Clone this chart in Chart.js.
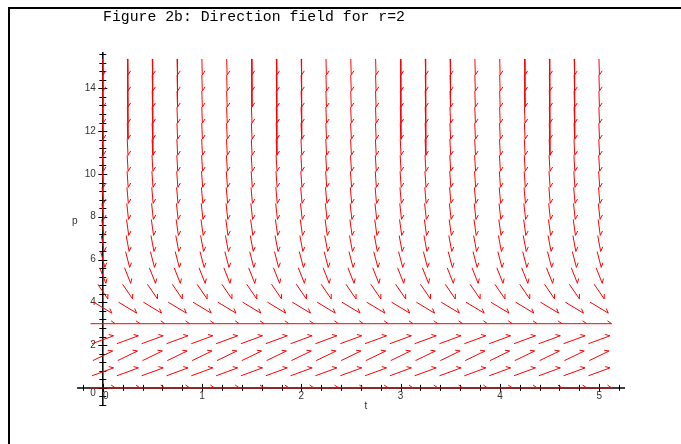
<!DOCTYPE html>
<html><head><meta charset="utf-8">
<script src="https://cdn.jsdelivr.net/npm/chart.js@4/dist/chart.umd.min.js"></script>
<style>html,body{margin:0;padding:0;background:#fff;overflow:hidden}</style>
</head><body>
<canvas id="c" width="681" height="444"></canvas>
<script>
// ---- data ----
const chartTitle = "Figure 2b: Direction field for r=2";
const xLabel = "t";
const yLabel = "p";
// grid of arrow centres
const tGrid = [0,0.25,0.5,0.75,1,1.25,1.5,1.75,2,2.25,2.5,2.75,3,3.25,3.5,3.75,4,4.25,4.5,4.75,5];
const pGrid = [0,0.75,1.5,2.25,3,3.75,4.5,5.25,6,6.75,7.5,8.25,9,9.75,10.5,11.25,12,12.75,13.5,14.25,15];
// slope dp/dt of the arrows in each row
const rowSlopes = [0,1.7,2.25,1.7,0,-2.8,-6.8,-11.8,-18,-25,-34,-43,-54,-66,-79,-93,-108,-124,-142,-160,-180];
// tick labels
const tTicks = [0,1,2,3,4,5];
const pTicks = [0,2,4,6,8,10,12,14];

// ---- build shaft segments from the arrays ----
const dt = tGrid[1]-tGrid[0], dp = pGrid[1]-pGrid[0];
const arrows = [];
pGrid.forEach((p,i)=>{
  const s = rowSlopes[i];
  const gx = 1/dt, gy = s/dp, n = Math.hypot(gx,gy);
  const hx = 0.5*dt*gx/n, hy = 0.5*dp*gy/n;
  tGrid.forEach(t=>{ arrows.push({x0:t-hx,y0:p-hy,x1:t+hx,y1:p+hy}); });
});
const shaftData = [];
arrows.forEach(a=>{ shaftData.push({x:a.x0,y:a.y0},{x:a.x1,y:a.y1},{x:a.x1,y:null}); });

const RED = '#ff0000';
const fieldPlugin = {
  id:'field',
  beforeDatasetsDraw(chart){
    const ctx = chart.ctx, xs = chart.scales.x, ys = chart.scales.y;
    const X = v=>xs.getPixelForValue(v), Y = v=>ys.getPixelForValue(v);
    ctx.save();
    // frame
    ctx.strokeStyle='#000'; ctx.lineWidth=2;
    ctx.beginPath(); ctx.moveTo(9,444); ctx.lineTo(9,8); ctx.lineTo(681,8); ctx.stroke();
    // title
    ctx.fillStyle='#000'; ctx.font="14.8px 'Liberation Mono', 'DejaVu Sans Mono', monospace";
    ctx.textAlign='left'; ctx.textBaseline='alphabetic';
    ctx.fillText(chartTitle, 103, 21);
    // axes
    const x0 = X(0), y0 = Y(0);
    ctx.strokeStyle='#000'; ctx.lineWidth=1.5;
    ctx.beginPath();
    ctx.moveTo(X(xs.min),y0); ctx.lineTo(X(xs.max),y0);
    ctx.moveTo(x0,Y(ys.min)); ctx.lineTo(x0,Y(ys.max));
    ctx.stroke();
    ctx.lineWidth=1;
    ctx.beginPath();
    for(let k=-1;k<=26;k++){ const v=k*0.2; const L=(k%5===0)?4:3; const px=Math.round(X(v))+0.5; ctx.moveTo(px,y0-L); ctx.lineTo(px,y0+L); }
    for(let k=-2;k<=39;k++){ const v=k*0.4; const L=(k%5===0)?4.5:3.5; const py=Math.round(Y(v))+0.5; ctx.moveTo(x0-L,py); ctx.lineTo(x0+L,py); }
    ctx.stroke();
    // tick labels
    ctx.fillStyle='#333'; ctx.font="10px 'Liberation Sans', Arial, sans-serif";
    ctx.textAlign='center'; ctx.textBaseline='middle';
    tTicks.forEach(v=>{ ctx.fillText(String(v), X(v)+(v===0?3:0), y0+8.5); });
    ctx.textAlign='right';
    pTicks.forEach(v=>{ ctx.fillText(String(v), x0-7, Y(v)+(v===0?5:0)); });
    // axis labels
    ctx.textAlign='center';
    ctx.fillText(xLabel, X(2.65), y0+18);
    ctx.fillText(yLabel, x0-28, Y(7.8));
    ctx.restore();
  },
  afterDatasetsDraw(chart){
    const ctx = chart.ctx, xs = chart.scales.x, ys = chart.scales.y;
    const phi = 35*Math.PI/180, len = 5, c=Math.cos(phi), s=Math.sin(phi);
    ctx.save();
    ctx.strokeStyle=RED; ctx.lineWidth=1;
    ctx.beginPath();
    arrows.forEach(a=>{
      const tx=xs.getPixelForValue(a.x1), ty=ys.getPixelForValue(a.y1);
      const sx=xs.getPixelForValue(a.x0), sy=ys.getPixelForValue(a.y0);
      let bx=sx-tx, by=sy-ty; const n=Math.hypot(bx,by); bx/=n; by/=n;
      const rx=bx*c-by*s, ry=bx*s+by*c;
      ctx.moveTo(tx,ty); ctx.lineTo(tx+rx*len, ty+ry*len);
    });
    ctx.stroke();
    ctx.restore();
  }
};

new Chart(document.getElementById('c'),{
  type:'scatter',
  data:{datasets:[{
    type:'line', data:shaftData, borderColor:RED, borderWidth:1,
    pointRadius:0, spanGaps:false, fill:false, tension:0
  }]},
  options:{
    responsive:false, animation:false,
    layout:{padding:{left:77,top:52,right:56,bottom:39}},
    scales:{
      x:{type:'linear',min:-0.26,max:5.26,display:false},
      y:{type:'linear',min:-0.8,max:15.7,display:false}
    },
    plugins:{legend:{display:false},tooltip:{enabled:false},title:{display:false}},
    events:[]
  },
  plugins:[fieldPlugin]
});
</script>
</body></html>
